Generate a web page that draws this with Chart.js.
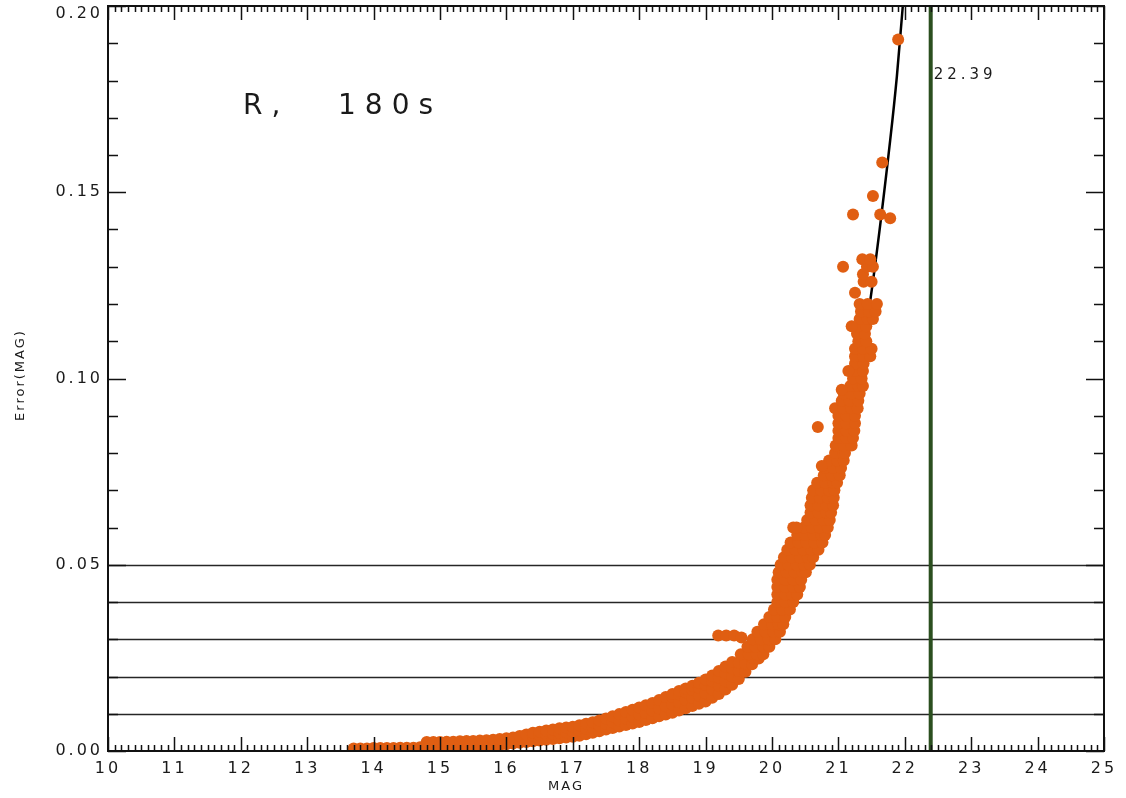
<!DOCTYPE html>
<html>
<head>
<meta charset="utf-8">
<script src="https://cdn.jsdelivr.net/npm/chart.js@4.4.1/dist/chart.umd.min.js"></script>
<style>
  html, body { margin: 0; padding: 0; background: #fff; }
  #wrap { width: 1126px; height: 798px; }
</style>
</head>
<body>
<div id="wrap"><canvas id="chartErr"></canvas></div>
<script>
// ===== DATA =====
// faint end: magnitude -> errors seen in that column
const bandByMag = [
  [13.7, [0.0007]], [13.8, [0.0007]], [13.9, [0.0007]], [14.0, [0.0008]], [14.1, [0.0008]],
  [14.2, [0.0008]], [14.3, [0.0008]], [14.4, [0.0009]], [14.5, [0.0009]], [14.6, [0.0009]],
  [14.7, [0.0010]],
  [14.8, [0.0010, 0.0024]], [14.9, [0.0010, 0.0024]], [15.0, [0.0010, 0.0024]],
  [15.1, [0.0011, 0.0025]], [15.2, [0.0011, 0.0025]], [15.3, [0.0011, 0.0026]],
  [15.4, [0.0012, 0.0027]], [15.5, [0.0012, 0.0027]], [15.6, [0.0013, 0.0028]],
  [15.7, [0.0014, 0.0029]], [15.8, [0.0015, 0.0030]], [15.9, [0.0016, 0.0032]],
  [16.0, [0.0018, 0.0034]], [16.1, [0.0020, 0.0036]], [16.2, [0.0022, 0.0040]],
  [16.3, [0.0024, 0.0044]], [16.4, [0.0026, 0.0040, 0.0049]], [16.5, [0.0028, 0.0042, 0.0052]],
  [16.6, [0.0030, 0.0044, 0.0055]], [16.7, [0.0032, 0.0046, 0.0058]], [16.8, [0.0034, 0.0048, 0.0061]],
  [16.9, [0.0036, 0.0050, 0.0063]], [17.0, [0.0038, 0.0052, 0.0065]], [17.1, [0.0041, 0.0055, 0.0069]],
  [17.2, [0.0045, 0.0059, 0.0073]], [17.3, [0.0049, 0.0063, 0.0077]], [17.4, [0.0053, 0.0068, 0.0082]],
  [17.5, [0.0058, 0.0073, 0.0087]], [17.6, [0.0062, 0.0077, 0.0093]], [17.7, [0.0066, 0.0082, 0.0099]],
  [17.8, [0.0070, 0.0087, 0.0105]], [17.9, [0.0074, 0.0092, 0.0111]], [18.0, [0.0078, 0.0097, 0.0117]],
  [18.1, [0.0083, 0.0102, 0.0123]], [18.2, [0.0088, 0.0108, 0.0129]], [18.3, [0.0093, 0.0114, 0.0137]],
  [18.4, [0.0098, 0.0120, 0.0145]], [18.5, [0.0103, 0.0125, 0.0145, 0.0153]],
  [18.6, [0.0109, 0.0131, 0.0152, 0.0161]], [18.7, [0.0115, 0.0137, 0.0158, 0.0168]],
  [18.8, [0.0121, 0.0143, 0.0164, 0.0175]], [18.9, [0.0127, 0.0149, 0.0170, 0.0183]],
  [19.0, [0.0133, 0.0155, 0.0177, 0.0192]], [19.1, [0.0143, 0.0165, 0.0187, 0.0203]],
  [19.2, [0.0153, 0.0175, 0.0197, 0.0215]], [19.3, [0.0165, 0.0187, 0.0209, 0.0227]],
  [19.4, [0.0178, 0.0200, 0.0222, 0.0239]], [19.5, [0.0193, 0.0215, 0.0237]],
  [19.6, [0.0213, 0.0235]], [19.7, [0.0233, 0.0250]], [19.8, [0.0248]]
];

// bright end: error -> magnitudes seen in that row
const bandByErr = [
  [0.026, [19.53, 19.65, 19.77, 19.87]], [0.028, [19.63, 19.75, 19.87, 19.96]],
  [0.030, [19.71, 19.83, 19.95, 20.05]], [0.032, [19.78, 19.90, 20.02, 20.12]],
  [0.034, [19.88, 20.00, 20.10, 20.17]], [0.036, [19.96, 20.08, 20.20]],
  [0.038, [20.03, 20.15, 20.27]], [0.040, [20.08, 20.20, 20.32]],
  [0.042, [20.08, 20.20, 20.30, 20.38]], [0.044, [20.08, 20.20, 20.32, 20.42]],
  [0.046, [20.08, 20.20, 20.32, 20.44]], [0.048, [20.10, 20.22, 20.34, 20.46, 20.51]],
  [0.050, [20.13, 20.25, 20.37, 20.48, 20.57]], [0.052, [20.18, 20.30, 20.42, 20.54, 20.62]],
  [0.054, [20.23, 20.35, 20.47, 20.59, 20.70]], [0.056, [20.28, 20.40, 20.52, 20.64, 20.76]],
  [0.058, [20.38, 20.50, 20.62, 20.74, 20.80]], [0.060, [20.32, 20.48, 20.60, 20.72, 20.84]],
  [0.062, [20.53, 20.65, 20.77, 20.87]], [0.064, [20.58, 20.70, 20.82, 20.89]],
  [0.066, [20.58, 20.70, 20.82, 20.92]], [0.068, [20.60, 20.72, 20.84, 20.93]],
  [0.070, [20.62, 20.74, 20.86, 20.94]], [0.072, [20.68, 20.80, 20.92, 20.98]],
  [0.074, [20.78, 20.90, 21.02]], [0.076, [20.80, 20.92, 21.04]],
  [0.078, [20.86, 20.98, 21.08]], [0.080, [20.95, 21.07, 21.10]],
  [0.082, [20.96, 21.08, 21.20]], [0.084, [21.00, 21.12, 21.22]],
  [0.086, [21.00, 21.12, 21.24]], [0.088, [21.00, 21.12, 21.25]],
  [0.090, [21.00, 21.12, 21.25]], [0.092, [20.95, 21.07, 21.19, 21.29]],
  [0.094, [21.05, 21.17, 21.30]], [0.096, [21.08, 21.20, 21.32]],
  [0.098, [21.18, 21.30, 21.37]], [0.100, [21.22, 21.35]],
  [0.102, [21.25, 21.37]], [0.104, [21.25, 21.38]],
  [0.106, [21.25, 21.37, 21.48]], [0.108, [21.25, 21.37, 21.50]],
  [0.110, [21.30, 21.42]], [0.112, [21.28, 21.40]],
  [0.114, [21.30, 21.42]], [0.116, [21.32, 21.44, 21.52]],
  [0.118, [21.34, 21.46, 21.56]], [0.120, [21.32, 21.44, 21.58]],
  [0.126, [21.38, 21.50]], [0.128, [21.37]],
  [0.130, [21.43, 21.52]], [0.132, [21.36, 21.48]]
];

// isolated stars
const outliers = [
  [19.19, 0.031], [19.31, 0.031], [19.43, 0.031], [19.54, 0.0305], [20.37, 0.060],
  [20.75, 0.0765], [20.69, 0.087], [21.05, 0.097], [21.15, 0.102], [21.20, 0.114],
  [21.25, 0.123], [21.07, 0.130], [21.22, 0.144], [21.63, 0.144], [21.78, 0.143],
  [21.52, 0.149], [21.66, 0.158], [21.90, 0.191]
];

// fitted error curve
const fitMag = [13.7, 14.0, 15.0, 16.0, 17.0, 18.0, 18.5, 19.0, 19.5, 20.0, 20.2, 20.4, 20.6, 20.8, 21.0, 21.17, 21.25, 21.37, 21.52, 21.78, 21.88, 21.97, 22.02];
const fitErr = [0.0004, 0.0008, 0.0015, 0.0026, 0.0050, 0.0092, 0.0125, 0.0165, 0.0225, 0.032, 0.039, 0.047, 0.056, 0.066, 0.078, 0.089, 0.096, 0.108, 0.126, 0.164, 0.181, 0.200, 0.210];

const limitLevels = [0.01, 0.02, 0.03, 0.04, 0.05];
const limitMag = 22.39;
const filterName = 'R,';
const exposure = '180s';

// ===== build points =====
const stars = [];
bandByMag.forEach(([m, errs]) => errs.forEach(e => stars.push({ x: m, y: e })));
bandByErr.forEach(([e, mags]) => mags.forEach(m => stars.push({ x: m, y: e })));
outliers.forEach(([m, e]) => stars.push({ x: m, y: e }));
const fitPts = fitMag.map((m, i) => ({ x: m, y: fitErr[i] }));

const FONT = "'DejaVu Sans', sans-serif";
const INK = '#1a1a1a';

// frame, inner ticks, limit lines, notes
const decor = {
  id: 'decor',
  beforeDraw(chart) {
    chart.ctx.letterSpacing = '3px';
  },
  beforeDatasetsDraw(chart) {
    const { ctx, chartArea: a, scales: { x, y } } = chart;
    ctx.save();
    ctx.strokeStyle = '#262626';
    ctx.lineWidth = 1.5;
    limitLevels.forEach(v => {
      const py = Math.round(y.getPixelForValue(v)) + 0.5;
      ctx.beginPath();
      ctx.moveTo(a.left, py);
      ctx.lineTo(a.right, py);
      ctx.stroke();
    });
    const px = x.getPixelForValue(limitMag);
    ctx.strokeStyle = '#2b4f1f';
    ctx.lineWidth = 4;
    ctx.beginPath();
    ctx.moveTo(px, a.top);
    ctx.lineTo(px, a.bottom);
    ctx.stroke();
    ctx.restore();
  },
  afterDatasetsDraw(chart) {
    const { ctx, chartArea: a, scales: { x, y } } = chart;
    ctx.save();
    ctx.strokeStyle = '#111';
    ctx.lineWidth = 2;
    ctx.strokeRect(a.left, a.top, a.right - a.left, a.bottom - a.top);

    // x ticks (bottom + top), 10 per unit
    ctx.lineWidth = 1.5;
    for (let k = 0; k <= 150; k++) {
      const px = Math.round(x.getPixelForValue(10 + k / 10)) + 0.5;
      const len = k % 10 === 0 ? 14 : 6;
      ctx.beginPath();
      ctx.moveTo(px, a.bottom); ctx.lineTo(px, a.bottom - len);
      ctx.moveTo(px, a.top); ctx.lineTo(px, a.top + len);
      ctx.stroke();
    }
    // y ticks (left + right), every 0.01
    for (let k = 0; k <= 20; k++) {
      const py = Math.round(y.getPixelForValue(k / 100)) + 0.5;
      const len = k % 5 === 0 ? 18 : 10;
      ctx.beginPath();
      ctx.moveTo(a.left, py); ctx.lineTo(a.left + len, py);
      ctx.moveTo(a.right, py); ctx.lineTo(a.right - len, py);
      ctx.stroke();
    }

    ctx.fillStyle = INK;
    ctx.textBaseline = 'middle';
    ctx.letterSpacing = '4px';
    ctx.font = '15px ' + FONT;
    ctx.fillText(limitMag.toFixed(2), x.getPixelForValue(limitMag) + 3, a.top + 69);

    ctx.letterSpacing = '9px';
    ctx.font = '28px ' + FONT;
    ctx.fillText(filterName, a.left + 135, a.top + 101);
    ctx.fillText(exposure, a.left + 230, a.top + 101);

    ctx.letterSpacing = '2px';
    ctx.font = '13px ' + FONT;
    ctx.textAlign = 'center';
    ctx.fillText('MAG', 566, 787);
    ctx.translate(21, 375);
    ctx.rotate(-Math.PI / 2);
    ctx.fillText('Error(MAG)', 0, 0);
    ctx.restore();
  }
};

new Chart(document.getElementById('chartErr'), {
  type: 'scatter',
  data: {
    datasets: [
      {
        label: 'stars',
        data: stars,
        pointRadius: 6,
        pointHoverRadius: 6,
        pointBackgroundColor: '#e05e12',
        pointBorderWidth: 0,
        clip: 0,
        order: 0
      },
      {
        label: 'fit',
        data: fitPts,
        showLine: true,
        borderColor: '#000',
        borderWidth: 2.5,
        pointRadius: 0,
        cubicInterpolationMode: 'monotone',
        clip: 0,
        order: 1
      }
    ]
  },
  options: {
    responsive: true,
    maintainAspectRatio: false,
    animation: false,
    layout: { padding: { left: 0, right: 22, top: 6, bottom: 0 } },
    plugins: {
      legend: { display: false },
      tooltip: { enabled: false }
    },
    scales: {
      x: {
        type: 'linear',
        min: 10,
        max: 25,
        grid: { display: false, drawTicks: false },
        border: { display: false },
        ticks: { stepSize: 1, padding: 8, color: INK, font: { family: FONT, size: 16 } },
        afterFit: s => { s.height = 47; s.paddingLeft = 0; s.paddingRight = 0; }
      },
      y: {
        min: 0,
        max: 0.2,
        grid: { display: false, drawTicks: false },
        border: { display: false },
        ticks: {
          stepSize: 0.01,
          autoSkip: false,
          padding: 5,
          color: INK,
          font: { family: FONT, size: 16, lineHeight: 1.0 },
          callback: v => {
            if (Math.round(v * 100) % 5 !== 0) return '';
            // top label sits just below the frame, as in the original plot
            return Math.round(v * 100) === 20 ? ['', v.toFixed(2)] : v.toFixed(2);
          }
        },
        afterFit: s => { s.width = 108; s.paddingTop = 0; s.paddingBottom = 0; }
      }
    }
  },
  plugins: [decor]
});
</script>
</body>
</html>
